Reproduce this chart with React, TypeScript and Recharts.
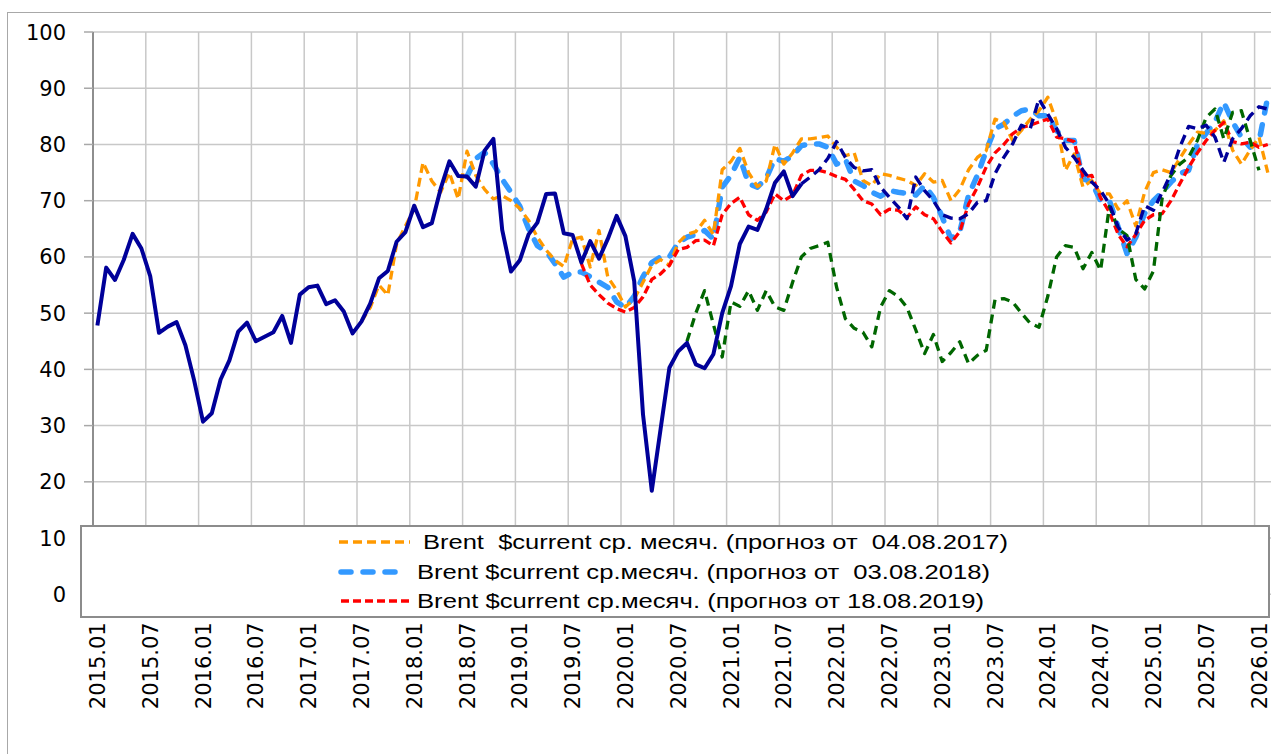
import React from "react";
import {
  LineChart,
  Line,
  XAxis,
  YAxis,
  CartesianGrid,
  Legend,
} from "recharts";

// monthly categories 2015.01 .. 2026.02
const firstYear = 2015;
const monthCount = 134;
const months: string[] = [];
for (let k = 0; k < monthCount; k++) {
  const y = firstYear + Math.floor(k / 12);
  const m = (k % 12) + 1;
  months.push(`${y}.${m < 10 ? "0" + m : m}`);
}

const xTickLabels = [
  "2015.01", "2015.07", "2016.01", "2016.07", "2017.01", "2017.07",
  "2018.01", "2018.07", "2019.01", "2019.07", "2020.01", "2020.07",
  "2021.01", "2021.07", "2022.01", "2022.07", "2023.01", "2023.07",
  "2024.01", "2024.07", "2025.01", "2025.07", "2026.01",
];
const yTicks = [0, 10, 20, 30, 40, 50, 60, 70, 80, 90, 100];

// Brent, fact (from 2015.01)
const actualBrent = [
  47.8, 58.1, 55.9, 59.5, 64.1, 61.5, 56.6, 46.5, 47.6, 48.4, 44.3, 38.0,
  30.7, 32.2, 38.2, 41.6, 46.7, 48.3, 45.0, 45.8, 46.6, 49.5, 44.7, 53.3,
  54.6, 54.9, 51.6, 52.3, 50.3, 46.4, 48.5, 51.7, 56.2, 57.5, 62.7, 64.4,
  69.1, 65.3, 66.0, 72.1, 77.0, 74.4, 74.3, 72.5, 78.9, 81.0, 64.8, 57.4,
  59.4, 64.0, 66.1, 71.2, 71.3, 64.2, 63.9, 59.0, 62.8, 59.7, 63.2, 67.3,
  63.7, 55.7, 32.0, 18.4, 29.4, 40.3, 43.2, 44.7, 40.9, 40.2, 42.7, 50.0,
  54.8, 62.3, 65.4, 64.8, 68.5, 73.2, 75.2, 70.8, 73.0,
];

// forecast 04.08.2017 (from 2017.07)
const forecast2017 = [
  48.5, 51.0, 55.0, 53.2, 62.3, 65.5,
  68.5, 76.8, 73.5, 71.5, 75.0, 70.3, 78.8, 74.5, 72.0, 70.3, 70.9, 70.0,
  68.6, 66.5, 63.5, 61.2, 59.4, 58.3, 63.2, 63.5, 58.2, 64.7, 56.4, 54.1,
  51.1, 52.5, 55.5, 58.5, 59.5, 58.5, 62.5, 64.0, 64.5, 66.5, 64.0, 75.5,
  77.0, 79.3, 75.0, 72.5, 73.5, 80.0, 76.5, 78.5, 81.0, 81.0, 81.2, 81.5,
  79.5, 78.0, 78.5, 73.6, 72.7, 74.8, 74.5, 74.0, 73.6, 72.7, 74.8, 73.3,
  73.6, 70.0, 72.0, 75.5, 77.7, 78.9, 84.5, 83.9, 80.7, 82.5, 84.5, 86.0,
  88.4, 84.0, 75.4, 78.3, 72.4, 73.6, 71.2, 71.2, 68.5, 70.0, 65.5, 71.5,
  75.0, 75.5, 75.0, 77.5, 80.0, 82.2, 82.0, 82.5, 84.2, 79.0, 76.5, 79.0,
  81.3, 75.0,
];

// forecast 03.08.2018 (from 2018.07)
const forecast2018 = [
  74.3, 77.5, 78.6, 76.5, 73.8, 71.5,
  69.0, 65.0, 62.0, 61.0, 58.8, 56.4, 57.3, 57.3, 56.5, 55.5, 54.6, 52.0,
  51.0, 53.0, 56.5, 59.0, 60.0, 60.0, 62.5, 63.5, 64.0, 64.7, 63.2, 72.4,
  74.5, 77.7, 73.0, 72.4, 74.0, 77.5, 77.0, 78.0, 79.8, 80.1, 80.1, 79.5,
  76.5, 77.4, 73.5, 72.7, 71.5, 70.8, 71.8, 71.5, 71.3, 71.0, 72.7, 70.6,
  67.1, 63.2, 64.5, 71.0, 74.5, 78.9, 82.8, 83.6, 85.0, 86.0, 86.3, 85.1,
  85.1, 82.5, 80.7, 80.7, 73.9, 73.3, 70.0, 70.0, 65.3, 60.6, 63.5, 67.7,
  70.0, 71.5, 73.3, 74.8, 75.4, 80.0, 82.0, 84.0, 87.5, 84.0, 81.3, 79.5,
  80.5, 88.5,
];

// forecast 18.08.2019 (from 2019.08)
const forecast2019 = [
  58.8, 55.0, 53.3, 51.8, 50.8,
  50.2, 51.0, 52.9, 56.0, 57.0, 58.5, 61.3, 61.7, 62.9, 63.0, 62.0, 67.5,
  69.5, 70.6, 67.5, 66.5, 68.0, 71.2, 70.0, 71.0, 74.5, 75.4, 75.4, 75.0,
  74.3, 73.8, 72.0, 70.0, 69.4, 67.5, 68.5, 68.3, 67.0, 68.9, 67.5, 66.8,
  64.5, 62.5, 64.5, 69.4, 72.4, 76.0, 78.5, 80.0, 81.9, 83.0, 83.4, 84.0,
  84.5, 81.3, 81.0, 80.5, 74.2, 74.5, 70.5, 68.0, 64.0, 61.8, 64.0, 66.5,
  67.5, 67.7, 70.0, 73.0, 75.9, 78.5, 80.7, 82.5, 83.9, 80.5, 80.1, 80.4,
  79.5, 80.0,
];

// forecast 2020 (from 2020.08)
const forecast2020 = [
  45.0, 50.0, 54.0, 48.0, 42.2,
  52.0, 51.2, 54.0, 50.5, 54.0, 51.1, 50.5, 55.5, 60.0, 61.5, 62.0, 62.6,
  54.6, 49.0, 47.3, 46.6, 44.0, 51.1, 54.0, 53.0, 51.0, 47.0, 42.8, 46.2,
  41.4, 43.0, 44.9, 41.0, 42.5, 43.4, 52.4, 52.6, 52.0, 50.0, 48.2, 47.5,
  53.0, 60.0, 62.0, 61.7, 57.9, 60.8, 57.6, 69.0, 65.0, 63.8, 56.0, 54.3,
  57.5, 70.5, 74.5, 76.5, 77.7, 80.7, 84.8, 86.3, 81.0, 85.7, 86.0, 80.7,
  75.4,
];

// forecast 2021 (from 2021.09)
const forecast2021 = [
  73.0, 74.2, 75.5, 77.5,
  80.5, 77.7, 75.9, 75.3, 75.5, 72.4, 70.6, 68.9, 66.8, 74.2, 71.8, 70.0,
  67.5, 66.9, 66.8, 67.7, 69.7, 70.0, 74.8, 77.7, 80.1, 83.4, 82.8, 88.1,
  85.4, 82.8, 79.5, 77.7, 75.4, 73.3, 71.8, 69.4, 65.3, 63.0, 64.1, 69.1,
  68.3, 71.5, 74.8, 79.5, 83.2, 82.8, 83.4, 81.3, 76.8, 81.0, 82.8, 85.1,
  86.7, 86.3,
];

type SeriesDef = {
  key: string;
  start: string;
  values: number[];
  color: string;
  width: number;
  dash?: string;
  cap?: "round" | "butt";
  legend?: string;
};

// drawing order: first is at the bottom
const series: SeriesDef[] = [
  { key: "f2018", start: "2018.07", values: forecast2018, color: "#3399FF", width: 5.5, dash: "10 12", cap: "round",
    legend: "Brent $current ср.месяч. (прогноз от  03.08.2018)" },
  { key: "f2017", start: "2017.07", values: forecast2017, color: "#FF9900", width: 3.3, dash: "9 5",
    legend: "Brent  $current ср. месяч. (прогноз от  04.08.2017)" },
  { key: "f2019", start: "2019.08", values: forecast2019, color: "#FF0000", width: 3.3, dash: "8 4",
    legend: "Brent $current ср.месяч. (прогноз от 18.08.2019)" },
  { key: "f2020", start: "2020.08", values: forecast2020, color: "#006600", width: 3.3, dash: "9 6" },
  { key: "f2021", start: "2021.09", values: forecast2021, color: "#000099", width: 3.4, dash: "10 6" },
  { key: "actual", start: "2015.01", values: actualBrent, color: "#000099", width: 4 },
];

const data = months.map((m, i) => {
  const row: Record<string, number | string | null> = { x: i + 0.5, month: m };
  series.forEach((s) => {
    const k = i - months.indexOf(s.start);
    row[s.key] = k >= 0 && k < s.values.length ? s.values[k] : null;
  });
  return row;
});

const W = 1290;
const H = 754;
const PLOT_LEFT = 93;
const PLOT_RIGHT = 1272.2;
const PLOT_TOP = 32;
const PLOT_BOTTOM = 594.3;
const HALF_STEP = (PLOT_RIGHT - PLOT_LEFT) / monthCount / 2;
const tickFont = "'DejaVu Sans', Verdana, sans-serif";

const XTick = (props: any) => {
  const { x, y, payload } = props;
  const cx = x + HALF_STEP;
  const label = xTickLabels[Math.round(payload.value / 6)] ?? "";
  const ty = y + 28;
  return (
    <text
      x={cx}
      y={ty}
      dy="0.36em"
      textAnchor="end"
      transform={`rotate(-90, ${cx}, ${ty})`}
      fontFamily={tickFont}
      fontSize={21}
      fill="#000"
    >
      {label}
    </text>
  );
};

const YTick = (props: any) => {
  const { x, y, payload } = props;
  return (
    <text x={x} y={y} dy="0.36em" textAnchor="end" fontFamily={tickFont} fontSize={21} fill="#000">
      {payload.value}
    </text>
  );
};

const legendRows = [
  { key: "f2017", y: 17, x1: 259, x2: 330, tx: 343, tw: 585 },
  { key: "f2018", y: 47, x1: 261, x2: 323, tx: 337, tw: 573 },
  { key: "f2019", y: 76, x1: 261, x2: 332, tx: 337, tw: 567 },
];

const LegendBox = () => (
  <div
    style={{
      width: "100%",
      height: "100%",
      boxSizing: "border-box",
      border: "2px solid #8C8C8C",
      background: "#fff",
    }}
  >
    <svg width="100%" height="100%" style={{ display: "block", overflow: "visible" }}>
      {legendRows.map((r) => {
        const s = series.find((d) => d.key === r.key)!;
        return (
          <g key={r.key} transform="translate(-2,-2)">
            <line
              x1={r.x1}
              x2={r.x2}
              y1={r.y}
              y2={r.y}
              stroke={s.color}
              strokeWidth={s.width}
              strokeDasharray={s.dash}
              strokeLinecap={s.cap ?? "butt"}
            />
            <text
              x={r.tx}
              y={r.y}
              dy="0.36em"
              fontFamily="'Liberation Sans', Arial, sans-serif"
              fontSize={20}
              textLength={r.tw}
              lengthAdjust="spacingAndGlyphs"
              fill="#000"
              style={{ whiteSpace: "pre" }}
            >
              {s.legend}
            </text>
          </g>
        );
      })}
    </svg>
  </div>
);

export default function App() {
  return (
    <div
      style={{
        position: "fixed",
        left: 0,
        top: 0,
        width: 1271,
        height: 754,
        overflow: "hidden",
        background: "#fff",
      }}
    >
      <div
        style={{
          position: "absolute",
          left: 7,
          top: 12,
          width: 1320,
          height: 800,
          border: "1.5px solid #A8A8A8",
        }}
      />
      <div style={{ position: "absolute", left: 0, top: 0 }}>
        <LineChart
          width={W}
          height={H}
          data={data}
          margin={{ top: PLOT_TOP, right: W - PLOT_RIGHT, bottom: 0, left: 0 }}
        >
          <CartesianGrid stroke="#C8C8C8" strokeWidth={1.5} />
          <XAxis
            dataKey="x"
            type="number"
            domain={[0, monthCount]}
            ticks={xTickLabels.map((_, k) => k * 6)}
            allowDataOverflow
            height={H - PLOT_BOTTOM}
            axisLine={false}
            tickLine={false}
            tickSize={0}
            tickMargin={0}
            interval={0}
            tick={<XTick />}
          />
          <YAxis
            type="number"
            domain={[0, 100]}
            ticks={yTicks}
            width={PLOT_LEFT}
            axisLine={{ stroke: "#8E8E8E", strokeWidth: 2 }}
            tickLine={{ stroke: "#A8A8A8", strokeWidth: 1.5 }}
            tickSize={9}
            tickMargin={18}
            interval={0}
            tick={<YTick />}
          />
          <Legend
            layout="vertical"
            align="center"
            verticalAlign="middle"
            content={<LegendBox />}
            wrapperStyle={{ left: 80, top: 525, width: 1190, height: 93 }}
          />
          {series.map((s) => (
            <Line
              key={s.key}
              dataKey={s.key}
              type="linear"
              stroke={s.color}
              strokeWidth={s.width}
              strokeDasharray={s.dash}
              strokeLinecap={s.cap ?? "butt"}
              strokeLinejoin="round"
              dot={false}
              activeDot={false}
              connectNulls={false}
              legendType={s.legend ? "line" : "none"}
              isAnimationActive={false}
            />
          ))}
        </LineChart>
      </div>
    </div>
  );
}
